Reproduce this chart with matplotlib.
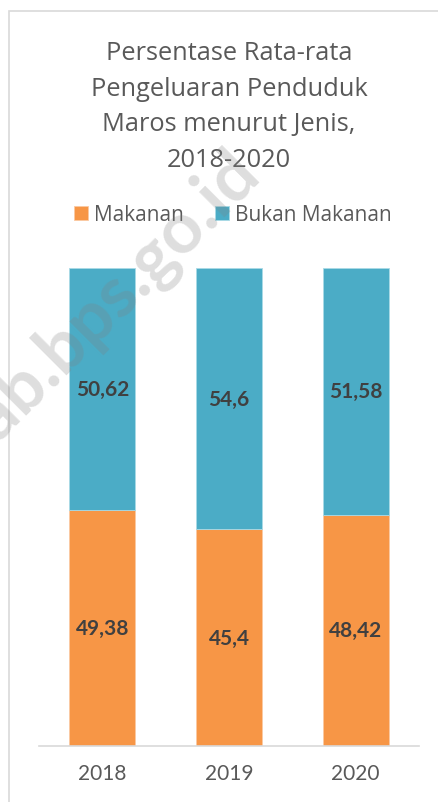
import matplotlib
matplotlib.use("Agg")
import matplotlib.pyplot as plt
from matplotlib.patches import Rectangle

years = ["2018", "2019", "2020"]
makanan = [49.38, 45.4, 48.42]
bukan_makanan = [50.62, 54.6, 51.58]
series_names = ["Makanan", "Bukan Makanan"]
title_lines = ["Persentase Rata-rata", "Pengeluaran Penduduk", "Maros menurut Jenis,", "2018-2020"]
watermark = "maroskab.bps.go.id"

C_ORANGE = "#F79646"
C_BLUE = "#4BACC6"
FONT = "Lato"
TFONT = "Open Sans"

W, H = 439, 803
fig = plt.figure(figsize=(W / 100, H / 100), dpi=100)
fig.patch.set_facecolor("white")

def fx(px):
    return px / W

def fy(py):
    return 1 - py / H

# chart border
fig.patches.append(Rectangle((fx(9.5), fy(900)), fx(600), fy(11.5) - fy(900),
                             transform=fig.transFigure, fill=False,
                             edgecolor="#D9D9D9", linewidth=1.2, zorder=0))

ax = fig.add_axes([fx(39), fy(747), fx(419) - fx(39), fy(269) - fy(747)])
x = list(range(len(years)))
w = 0.52
b1 = ax.bar(x, makanan, width=w, color=C_ORANGE, edgecolor="#FBC9A3", linewidth=0.6, label=series_names[0])
b2 = ax.bar(x, bukan_makanan, width=w, bottom=makanan, color=C_BLUE, edgecolor="#A9DAE6", linewidth=0.6, label=series_names[1])

def fmt(v):
    return ("%g" % v).replace(".", ",")

for i in x:
    ax.text(i, makanan[i] / 2, fmt(makanan[i]), ha="center", va="center",
            fontsize=15, fontweight="bold", color="#404040", family=FONT)
    ax.text(i, makanan[i] + bukan_makanan[i] / 2, fmt(bukan_makanan[i]), ha="center", va="center",
            fontsize=15, fontweight="bold", color="#404040", family=FONT)

ax.set_xlim(-0.5, 2.5)
ax.set_ylim(0, 100)
ax.set_yticks([])
ax.set_xticks(x)
ax.set_xticklabels(years, fontsize=15, color="#595959", family=FONT)
ax.tick_params(axis="x", length=0, pad=12)
for s in ["top", "right", "left"]:
    ax.spines[s].set_visible(False)
ax.spines["bottom"].set_color("#D9D9D9")
ax.spines["bottom"].set_linewidth(1.2)
ax.set_facecolor("none")

# title
baselines = [60, 96, 131.5, 167]
for line, yb in zip(title_lines, baselines):
    fig.text(fx(229), fy(yb), line, ha="center", va="baseline", fontsize=18.3,
             color="#595959", family=TFONT)

leg = fig.legend(handles=[b1, b2], labels=series_names, loc="center",
                 bbox_to_anchor=(fx(233), fy(216)), ncol=2, frameon=False,
                 prop={"family": TFONT, "size": 15}, labelcolor="#595959",
                 handlelength=0.67, handleheight=0.67, handletextpad=0.3,
                 columnspacing=1.5)

# watermark
fig.text(fx(262), fy(176), watermark, ha="right", va="baseline", rotation=45,
         rotation_mode="anchor", fontsize=51, fontweight="bold", color="#808080",
         alpha=0.26, family=FONT, zorder=10)

fig.savefig("out.png", dpi=100)
